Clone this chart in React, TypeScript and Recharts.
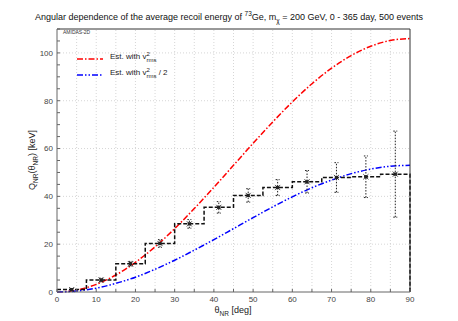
import React from 'react';
import {
  ComposedChart, Line, Scatter, ErrorBar, XAxis, YAxis, ReferenceLine,
} from 'recharts';

// estimated curves, read every 5 deg
const curveTheta = [0, 5, 10, 15, 20, 25, 30, 35, 40, 45, 50, 55, 60, 65, 70, 75, 80, 85, 90];
const redValues = [0, 0.8, 3.2, 7.1, 12.4, 18.9, 26.5, 34.9, 43.8, 53.0, 62.2, 71.1, 79.5, 87.1, 93.6, 98.9, 102.8, 105.2, 106.0];
const blueValues = [0, 0.4, 1.6, 3.6, 6.2, 9.5, 13.3, 17.5, 21.9, 26.5, 31.1, 35.6, 39.8, 43.6, 46.8, 49.5, 51.4, 52.6, 53.0];

// reconstructed histogram (7.5 deg bins)
const binEdges = [0, 7.5, 15, 22.5, 30, 37.5, 45, 52.5, 60, 67.5, 75, 82.5, 90];
const binCenters = [3.75, 11.25, 18.75, 26.25, 33.75, 41.25, 48.75, 56.25, 63.75, 71.25, 78.75, 86.25];
const binValues = [1.0, 5.0, 11.8, 20.3, 28.5, 35.4, 40.4, 43.7, 46.1, 47.9, 48.2, 49.3];
const binErrors = [0.5, 0.8, 1.0, 1.6, 1.8, 2.4, 2.8, 3.3, 4.7, 6.2, 8.7, 18.0];

const xTicks = [0, 5, 10, 15, 20, 25, 30, 35, 40, 45, 50, 55, 60, 65, 70, 75, 80, 85, 90];
const yTicks = [0, 5, 10, 15, 20, 25, 30, 35, 40, 45, 50, 55, 60, 65, 70, 75, 80, 85, 90, 95, 100, 105, 110];
const xGrid = [5, 10, 15, 20, 25, 30, 35, 40, 45, 50, 55, 60, 65, 70, 75, 80, 85];
const yGrid = [20, 40, 60, 80, 100];

const redData = curveTheta.map((x, i) => ({ x, y: redValues[i] }));
const blueData = curveTheta.map((x, i) => ({ x, y: blueValues[i] }));
const stepData = [
  ...binEdges.slice(0, -1).map((x, i) => ({ x, y: binValues[i] })),
  { x: 90, y: binValues[binValues.length - 1] },
  { x: 90, y: 0 },
];
const pointData = binCenters.map((x, i) => ({ x, y: binValues[i], err: binErrors[i] }));

const FONT = '"Liberation Sans", Arial, sans-serif';
const tickStyle = { fontSize: 8, fill: '#444', fontFamily: FONT };

const Marker = (props: any) => {
  const { cx, cy } = props;
  if (cx == null || cy == null) return null;
  return (
    <g>
      <rect x={cx - 1.6} y={cy - 1.6} width={3.2} height={3.2} fill="#222" />
      <path d={`M${cx - 2.6},${cy - 2.6}L${cx + 2.6},${cy + 2.6}M${cx - 2.6},${cy + 2.6}L${cx + 2.6},${cy - 2.6}`} stroke="#222" strokeWidth={0.8} />
    </g>
  );
};

export default function App() {
  const xLabel = (v: number) => (v % 10 === 0 ? String(v) : '');
  const yLabel = (v: number) => (v % 20 === 0 && v <= 100 ? String(v) : '');
  const blank = () => '';
  return (
    <div style={{ position: 'absolute', left: 0, top: 0, width: 458, height: 321, background: '#fff', fontFamily: FONT }}>
      <ComposedChart width={458} height={321} margin={{ top: 19, right: 38, bottom: 9, left: 27 }}>
        <XAxis xAxisId="top" orientation="top" type="number" dataKey="x" domain={[0, 90]} ticks={xTicks}
          height={10} tickSize={-3} tickFormatter={blank} stroke="#333" interval={0} />
        <YAxis yAxisId="right" orientation="right" type="number" domain={[0, 110]} ticks={yTicks}
          width={10} tickSize={-3} tickFormatter={blank} stroke="#333" interval={0} />
        <XAxis type="number" dataKey="x" domain={[0, 90]} ticks={xTicks} height={20}
          tickSize={-3} tickMargin={7} tickFormatter={xLabel} tick={tickStyle} stroke="#666" interval={0} />
        <YAxis type="number" domain={[0, 110]} ticks={yTicks} width={30}
          tickSize={-3} tickMargin={7} tickFormatter={yLabel} tick={tickStyle} stroke="#666" interval={0} />
        {xGrid.map((v) => (
          <ReferenceLine key={'gx' + v} x={v} stroke="#bbb" strokeWidth={0.6} strokeDasharray="1 2" />
        ))}
        {yGrid.map((v) => (
          <ReferenceLine key={'gy' + v} y={v} stroke="#bbb" strokeWidth={0.6} strokeDasharray="1 2" />
        ))}
        <Line data={redData} dataKey="y" type="monotone" stroke="#ff0000" strokeWidth={1.5}
          strokeDasharray="6 2 1.5 2" dot={false} isAnimationActive={false} />
        <Line data={blueData} dataKey="y" type="monotone" stroke="#0000ff" strokeWidth={1.5}
          strokeDasharray="6 2 1.5 2 1.5 2" dot={false} isAnimationActive={false} />
        <Line data={stepData} dataKey="y" type="stepAfter" stroke="#111" strokeWidth={1.5}
          strokeDasharray="4 2" dot={false} isAnimationActive={false} />
        <Scatter data={pointData} dataKey="y" shape={<Marker />} isAnimationActive={false}>
          <ErrorBar dataKey="err" direction="y" width={2} stroke="#222" strokeWidth={1} strokeDasharray="1.5 1.5" />
        </Scatter>
      </ComposedChart>

      <div style={{ position: 'absolute', left: 0, width: 458, top: 10, textAlign: 'center', fontSize: 9, color: '#111', whiteSpace: 'nowrap' }}>
        Angular dependence of the average recoil energy of <sup style={{ fontSize: 6.5 }}>73</sup>Ge, m<sub style={{ fontSize: 6.5 }}>χ</sub> = 200 GeV, 0 - 365 day, 500 events
      </div>
      <div style={{ position: 'absolute', left: 63, top: 29, fontSize: 5, color: '#333' }}>AMIDAS-2D</div>

      <svg style={{ position: 'absolute', left: 0, top: 0 }} width={458} height={321} pointerEvents="none">
        <line x1={77} x2={103} y1={59} y2={59} stroke="#ff0000" strokeWidth={1.5} strokeDasharray="6 2 1.5 2" />
        <line x1={77} x2={103} y1={75} y2={75} stroke="#0000ff" strokeWidth={1.5} strokeDasharray="6 2 1.5 2 1.5 2" />
      </svg>
      <div style={{ position: 'absolute', left: 110, top: 51, fontSize: 8, color: '#222', whiteSpace: 'nowrap' }}>
        Est. with v<span style={{ display: 'inline-block', verticalAlign: -3, lineHeight: '6px', fontSize: 6 }}>
          <span style={{ display: 'block' }}>2</span><span style={{ display: 'block' }}>rms</span></span>
      </div>
      <div style={{ position: 'absolute', left: 110, top: 67, fontSize: 8, color: '#222', whiteSpace: 'nowrap' }}>
        Est. with v<span style={{ display: 'inline-block', verticalAlign: -3, lineHeight: '6px', fontSize: 6 }}>
          <span style={{ display: 'block' }}>2</span><span style={{ display: 'block' }}>rms</span></span> / 2
      </div>

      <div style={{ position: 'absolute', left: 183, width: 100, top: 305, lineHeight: '10px', textAlign: 'center', fontSize: 9, color: '#222' }}>
        θ<sub style={{ fontSize: 6.5, lineHeight: '6px' }}>NR</sub> [deg]
      </div>
      <div style={{ position: 'absolute', left: 33, top: 160, width: 0, height: 0 }}>
        <div style={{ position: 'absolute', transform: 'translate(-50%, -50%) rotate(-90deg)', fontSize: 9, color: '#222', whiteSpace: 'nowrap' }}>
          Q<sub style={{ fontSize: 6.5 }}>NR</sub>(θ<sub style={{ fontSize: 6.5 }}>NR</sub>) [keV]
        </div>
      </div>
    </div>
  );
}
